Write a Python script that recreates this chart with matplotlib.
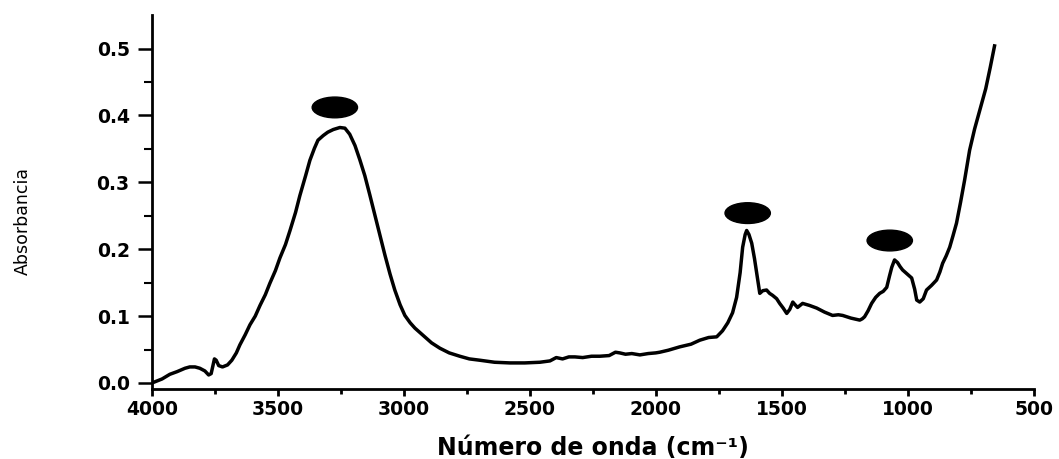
import numpy as np
import matplotlib.pyplot as plt
from matplotlib.patches import Ellipse

# FTIR spectrum (wavenumber cm-1, absorbance)
wavenumber = [4000, 3960, 3929, 3900, 3869, 3850, 3829, 3810, 3790, 3775, 3765,
              3752, 3745, 3735, 3720, 3700, 3683, 3665, 3651, 3630, 3611, 3590,
              3571, 3550, 3532, 3510, 3492, 3470, 3452, 3430, 3413, 3390, 3373,
              3355, 3341, 3320, 3302, 3280, 3254, 3234, 3215, 3194, 3175, 3155,
              3135, 3115, 3095, 3075, 3055, 3036, 3015, 2996, 2975, 2956, 2935,
              2917, 2890, 2857, 2820, 2778, 2740, 2698, 2640, 2579, 2520, 2460,
              2420, 2395, 2370, 2345, 2321, 2290, 2255, 2222, 2185, 2160, 2143,
              2120, 2095, 2063, 2030, 2000, 1984, 1950, 1905, 1860, 1825, 1790,
              1758, 1735, 1714, 1695, 1679, 1665, 1655, 1645, 1639, 1630, 1619,
              1608, 1599, 1587, 1575, 1560, 1548, 1536, 1520, 1508, 1494, 1480,
              1468, 1456, 1447, 1437, 1427, 1417, 1390, 1361, 1330, 1298, 1275,
              1258, 1225, 1190, 1180, 1171, 1157, 1143, 1127, 1111, 1097, 1083,
              1072, 1063, 1052, 1040, 1030, 1020, 1002, 984, 972, 964, 952, 938,
              925, 905, 885, 872, 861, 847, 833, 820, 806, 790, 774, 754, 734,
              714, 690, 672, 655]
absorbance = [0.000, 0.006, 0.013, 0.017, 0.022, 0.024, 0.024, 0.022, 0.018, 0.012,
              0.014, 0.036, 0.034, 0.026, 0.024, 0.027, 0.034, 0.045, 0.057, 0.072,
              0.087, 0.100, 0.116, 0.132, 0.149, 0.168, 0.187, 0.207, 0.228, 0.255,
              0.280, 0.310, 0.333, 0.351, 0.363, 0.370, 0.375, 0.379, 0.382, 0.381,
              0.372, 0.355, 0.334, 0.310, 0.281, 0.251, 0.221, 0.191, 0.163, 0.139,
              0.117, 0.101, 0.090, 0.082, 0.075, 0.069, 0.060, 0.052, 0.045, 0.040,
              0.036, 0.034, 0.031, 0.030, 0.030, 0.031, 0.033, 0.038, 0.036, 0.039,
              0.039, 0.038, 0.040, 0.040, 0.041, 0.046, 0.045, 0.043, 0.044, 0.042,
              0.044, 0.045, 0.046, 0.049, 0.054, 0.058, 0.064, 0.068, 0.069, 0.078,
              0.090, 0.105, 0.128, 0.165, 0.203, 0.222, 0.228, 0.222, 0.209, 0.186,
              0.164, 0.134, 0.138, 0.139, 0.134, 0.131, 0.126, 0.119, 0.112, 0.104,
              0.110, 0.121, 0.117, 0.113, 0.116, 0.119, 0.116, 0.112, 0.106, 0.101,
              0.102, 0.101, 0.097, 0.094, 0.096, 0.099, 0.108, 0.119, 0.128, 0.134,
              0.137, 0.143, 0.160, 0.173, 0.184, 0.180, 0.174, 0.169, 0.163, 0.157,
              0.140, 0.124, 0.121, 0.126, 0.139, 0.146, 0.154, 0.166, 0.179, 0.190,
              0.203, 0.220, 0.239, 0.270, 0.303, 0.348, 0.380, 0.407, 0.440, 0.472,
              0.504]

# peaks marked with black ellipses
mark_x = [3274, 1635, 1071]
mark_y = [0.412, 0.254, 0.213]

fig = plt.figure(figsize=(10.59, 4.59), dpi=100)
ax = fig.add_axes([0.1435, 0.1525, 0.8325, 0.8145])

ax.plot(wavenumber, absorbance, color='black', linewidth=2.5, solid_joinstyle='round')

for mx, my in zip(mark_x, mark_y):
    ax.add_patch(Ellipse((mx, my), width=180, height=0.031, color='black'))

ax.set_xlim(4000, 500)
ax.set_ylim(-0.009, 0.55)
ax.set_xticks(np.arange(4000, 499, -500))
ax.set_xticks(np.arange(3750, 500, -500), minor=True)
ax.set_yticks(np.arange(0, 0.51, 0.1))
ax.set_yticks(np.arange(0.05, 0.51, 0.1), minor=True)
ax.yaxis.set_major_formatter(plt.FormatStrFormatter('%.1f'))

for side in ['top', 'right']:
    ax.spines[side].set_visible(False)
for side in ['left', 'bottom']:
    ax.spines[side].set_linewidth(2)

ax.tick_params(axis='y', which='major', direction='out', length=10, width=1.8,
               labelsize=13.5, pad=6)
ax.tick_params(axis='y', which='minor', direction='out', length=5.5, width=1.5)
ax.tick_params(axis='x', which='major', direction='out', length=5, width=2,
               labelsize=13.5, pad=3)
ax.tick_params(axis='x', which='minor', direction='out', length=3.5, width=2)
for lab in ax.get_xticklabels() + ax.get_yticklabels():
    lab.set_fontweight('bold')

ax.set_xlabel('Número de onda (cm⁻¹)', fontsize=17, fontweight='bold', va='center')
ax.xaxis.set_label_coords(0.5, -0.158)
fig.text(23 / 1059, 1 - 221 / 459, 'Absorbancia', rotation=90, fontsize=12.5,
         ha='center', va='center')

fig.savefig('out.png', dpi=100)
